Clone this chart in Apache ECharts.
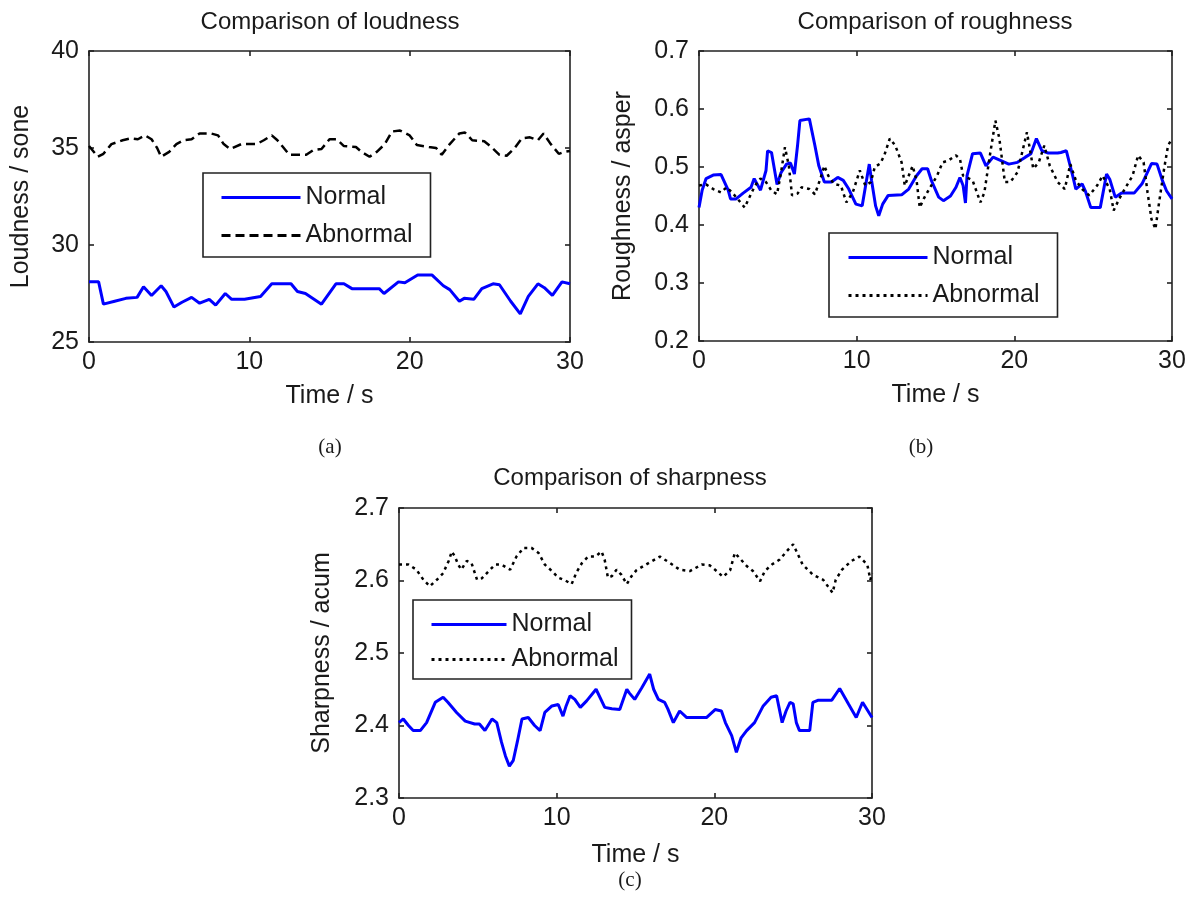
<!DOCTYPE html>
<html>
<head>
<meta charset="utf-8">
<title>Comparison of loudness, roughness and sharpness</title>
<script src="https://cdn.jsdelivr.net/npm/echarts@6/dist/echarts.min.js"></script>
<style>
  html, body { margin: 0; padding: 0; background: #fff; }
  #page { position: relative; width: 1191px; height: 899px; overflow: hidden; }
  .chart { position: absolute; }
  #chartA { left: 0; top: 0; width: 600px; height: 460px; }
  #chartB { left: 600px; top: 0; width: 591px; height: 460px; }
  #chartC { left: 300px; top: 460px; width: 600px; height: 439px; }
</style>
</head>
<body>
<div id="page">
  <div id="chartA" class="chart"></div>
  <div id="chartB" class="chart"></div>
  <div id="chartC" class="chart"></div>
</div>
<script>
// (a) loudness, sone
const loudNormalTime = [0, 0.6, 0.9, 1.6, 2.3, 3.0, 3.4, 3.9, 4.5, 4.8, 5.3, 5.8, 6.4, 6.9, 7.5, 7.9, 8.5, 8.9, 9.7, 10.7, 11.4, 12.6, 13.0, 13.5, 14.5, 15.4, 15.9, 16.4, 18.1, 18.4, 19.3, 19.7, 20.5, 21.4, 22.1, 22.5, 23.1, 23.4, 24.0, 24.5, 25.2, 25.6, 26.3, 26.9, 27.4, 28.0, 28.4, 28.9, 29.5, 30];
const loudNormal = [28.1, 28.1, 26.95, 27.1, 27.25, 27.3, 27.85, 27.4, 27.9, 27.6, 26.8, 27.05, 27.3, 27.0, 27.2, 26.9, 27.5, 27.2, 27.2, 27.35, 28.0, 28.0, 27.6, 27.5, 26.95, 28.0, 28.0, 27.75, 27.75, 27.5, 28.1, 28.05, 28.45, 28.45, 27.9, 27.7, 27.1, 27.25, 27.2, 27.75, 28.0, 27.95, 27.1, 26.45, 27.35, 28.0, 27.8, 27.4, 28.1, 28.0];
const loudAbnormalTime = [0, 0.55, 0.9, 1.4, 2.1, 2.6, 3.05, 3.5, 3.9, 4.25, 4.5, 5.0, 5.45, 5.9, 6.4, 6.9, 7.6, 8.05, 8.4, 8.8, 9.5, 10.45, 10.9, 11.4, 11.75, 12.1, 12.5, 13.55, 14.0, 14.5, 15.0, 15.45, 15.9, 16.65, 17.0, 17.5, 17.95, 18.45, 18.9, 19.4, 20.0, 20.45, 21.2, 21.65, 22.0, 22.5, 23.1, 23.45, 23.9, 24.65, 25.1, 25.6, 26.05, 26.55, 27.0, 27.5, 28.0, 28.35, 28.8, 29.3, 29.65, 30];
const loudAbnormal = [35.1, 34.55, 34.7, 35.2, 35.4, 35.5, 35.45, 35.65, 35.45, 35.0, 34.55, 34.8, 35.2, 35.4, 35.45, 35.75, 35.75, 35.65, 35.2, 34.95, 35.2, 35.2, 35.4, 35.65, 35.4, 35.05, 34.65, 34.65, 34.9, 34.95, 35.45, 35.45, 35.1, 35.05, 34.8, 34.55, 34.8, 35.2, 35.85, 35.9, 35.65, 35.15, 35.05, 35.0, 34.65, 35.2, 35.75, 35.8, 35.4, 35.35, 35.05, 34.65, 34.6, 35.0, 35.5, 35.55, 35.4, 35.75, 35.2, 34.7, 34.8, 34.85];

// (b) roughness, asper
const roughNormalTime = [0, 0.2, 0.45, 0.9, 1.4, 1.85, 2.0, 2.35, 2.8, 3.3, 3.5, 3.7, 3.9, 4.25, 4.35, 4.6, 4.95, 5.2, 5.55, 5.8, 6.05, 6.25, 6.4, 7.0, 7.35, 7.6, 7.95, 8.4, 8.8, 9.15, 9.5, 9.95, 10.35, 10.55, 10.8, 10.95, 11.2, 11.4, 11.65, 12.0, 12.85, 13.3, 13.8, 14.15, 14.5, 14.75, 15.2, 15.5, 15.95, 16.3, 16.55, 16.75, 16.9, 17.0, 17.35, 17.85, 18.2, 18.65, 19.15, 19.65, 20.2, 20.7, 21.05, 21.4, 21.75, 22.15, 22.75, 22.95, 23.3, 23.7, 23.9, 24.3, 24.5, 24.85, 25.45, 25.85, 26.05, 26.4, 26.8, 27.6, 28.1, 28.7, 29.05, 29.4, 29.65, 30];
const roughNormal = [0.43, 0.46, 0.48, 0.486, 0.487, 0.46, 0.445, 0.445, 0.455, 0.465, 0.48, 0.47, 0.46, 0.494, 0.528, 0.525, 0.47, 0.49, 0.505, 0.507, 0.488, 0.537, 0.58, 0.583, 0.537, 0.502, 0.474, 0.474, 0.482, 0.477, 0.462, 0.436, 0.433, 0.465, 0.505, 0.476, 0.433, 0.416, 0.436, 0.451, 0.452, 0.462, 0.485, 0.497, 0.497, 0.476, 0.448, 0.442, 0.45, 0.465, 0.482, 0.468, 0.438, 0.485, 0.523, 0.524, 0.502, 0.517, 0.511, 0.505, 0.508, 0.517, 0.523, 0.549, 0.528, 0.524, 0.524, 0.525, 0.528, 0.485, 0.462, 0.471, 0.459, 0.43, 0.43, 0.488, 0.479, 0.448, 0.455, 0.455, 0.471, 0.506, 0.505, 0.476, 0.459, 0.445];
const roughAbnormalTime = [0, 0.45, 0.9, 1.4, 1.75, 2.1, 2.45, 2.9, 3.15, 3.55, 3.9, 4.25, 4.6, 4.95, 5.2, 5.45, 5.7, 5.9, 6.25, 6.5, 7.0, 7.35, 7.7, 7.95, 8.2, 8.55, 9.0, 9.35, 9.75, 10.2, 10.55, 10.9, 11.15, 11.5, 11.75, 12.1, 12.45, 12.85, 13.05, 13.55, 13.8, 14.0, 14.25, 14.6, 15.1, 15.45, 15.8, 16.3, 16.55, 16.75, 17.35, 17.85, 18.1, 18.45, 18.8, 19.05, 19.4, 19.75, 20.2, 20.8, 21.2, 21.55, 21.9, 22.25, 22.75, 23.2, 23.55, 23.9, 24.3, 24.75, 25.25, 25.6, 26.05, 26.3, 26.65, 27.0, 27.5, 27.85, 28.2, 28.45, 28.7, 28.95, 29.15, 29.5, 29.75, 30];
const roughAbnormal = [0.468, 0.47, 0.462, 0.456, 0.465, 0.456, 0.445, 0.43, 0.445, 0.468, 0.48, 0.474, 0.459, 0.453, 0.49, 0.534, 0.502, 0.451, 0.454, 0.465, 0.462, 0.453, 0.48, 0.502, 0.485, 0.471, 0.468, 0.439, 0.456, 0.494, 0.468, 0.474, 0.5, 0.506, 0.52, 0.549, 0.537, 0.508, 0.468, 0.502, 0.477, 0.43, 0.445, 0.462, 0.485, 0.508, 0.511, 0.52, 0.514, 0.485, 0.477, 0.439, 0.456, 0.52, 0.58, 0.549, 0.474, 0.474, 0.491, 0.56, 0.497, 0.508, 0.537, 0.502, 0.474, 0.462, 0.505, 0.477, 0.462, 0.451, 0.468, 0.485, 0.462, 0.425, 0.445, 0.462, 0.485, 0.52, 0.508, 0.456, 0.41, 0.393, 0.433, 0.497, 0.537, 0.549];

// (c) sharpness, acum
const sharpNormalTime = [0, 0.27, 0.6, 0.9, 1.35, 1.75, 2.3, 2.8, 3.1, 3.65, 4.2, 4.8, 5.1, 5.45, 5.9, 6.2, 6.5, 6.75, 7.0, 7.25, 7.5, 7.8, 8.2, 8.6, 8.95, 9.25, 9.7, 10.1, 10.4, 10.6, 10.85, 11.15, 11.5, 11.9, 12.5, 13.05, 13.5, 14.0, 14.45, 14.6, 14.95, 15.4, 15.9, 16.15, 16.45, 16.85, 17.05, 17.4, 17.8, 18.25, 19.5, 20.05, 20.45, 20.7, 21.1, 21.4, 21.7, 22.05, 22.55, 23.1, 23.6, 23.95, 24.3, 24.55, 24.8, 25.0, 25.2, 25.4, 26.05, 26.25, 26.6, 27.45, 27.95, 28.5, 29.0, 29.4, 30];
const sharpNormal = [2.404, 2.409, 2.4, 2.393, 2.393, 2.404, 2.432, 2.439, 2.432, 2.418, 2.406, 2.402, 2.402, 2.393, 2.409, 2.404, 2.377, 2.358, 2.344, 2.352, 2.377, 2.409, 2.411, 2.4, 2.393, 2.418, 2.427, 2.429, 2.413, 2.427, 2.441, 2.436, 2.425, 2.434, 2.45, 2.425, 2.423, 2.422, 2.45, 2.445, 2.436, 2.452, 2.471, 2.45, 2.436, 2.432, 2.423, 2.404, 2.42, 2.411, 2.411, 2.422, 2.42, 2.404, 2.386, 2.363, 2.383, 2.393, 2.404, 2.427, 2.439, 2.441, 2.404, 2.42, 2.432, 2.43, 2.404, 2.393, 2.393, 2.432, 2.435, 2.435, 2.451, 2.43, 2.411, 2.432, 2.411];
const sharpAbnormalTime = [0, 0.6, 1.1, 1.55, 1.95, 2.4, 2.8, 3.15, 3.35, 3.55, 3.75, 3.95, 4.3, 4.6, 4.95, 5.25, 5.65, 6.1, 6.5, 7.05, 7.45, 7.9, 8.4, 8.85, 9.25, 9.7, 10.1, 10.55, 10.95, 11.25, 11.6, 12.0, 12.45, 12.85, 13.05, 13.25, 13.5, 13.8, 14.1, 14.45, 14.75, 15.05, 15.9, 16.55, 17.2, 17.8, 18.45, 19.2, 19.7, 20.15, 20.55, 21.0, 21.3, 21.6, 22.05, 22.45, 22.9, 23.2, 23.65, 24.15, 24.7, 25.0, 25.6, 26.25, 26.9, 27.5, 27.7, 28.1, 28.7, 29.2, 29.7, 29.9, 30];
const sharpAbnormal = [2.622, 2.622, 2.615, 2.601, 2.592, 2.601, 2.61, 2.627, 2.64, 2.633, 2.622, 2.615, 2.627, 2.624, 2.601, 2.603, 2.612, 2.622, 2.622, 2.615, 2.633, 2.645, 2.645, 2.638, 2.622, 2.613, 2.604, 2.6, 2.595, 2.611, 2.624, 2.633, 2.633, 2.64, 2.628, 2.604, 2.606, 2.615, 2.608, 2.595, 2.606, 2.614, 2.625, 2.633, 2.624, 2.615, 2.613, 2.622, 2.621, 2.613, 2.605, 2.614, 2.638, 2.631, 2.62, 2.613, 2.599, 2.613, 2.622, 2.629, 2.643, 2.65, 2.622, 2.608, 2.601, 2.583, 2.601, 2.615, 2.627, 2.633, 2.622, 2.601, 2.61];

const timeTicks = [0, 30, 10];   // min, max, step

const FONT = '"Liberation Sans", Arial, sans-serif';
const INK = '#1a1a1a';
const FS = 25;

const toPairs = (t, v) => t.map((x, i) => [x, v[i]]);

// axis drawn as a box edge with inward ticks (matlab look)
function frameAxis(extra) {
  return Object.assign({
    type: 'value',
    axisLine: { show: true, onZero: false, lineStyle: { color: '#222', width: 1.6 } },
    axisTick: { show: true, inside: true, length: 5, lineStyle: { color: '#222', width: 1.6 } },
    splitLine: { show: false },
    axisLabel: { show: false }
  }, extra);
}

function textEl(x, y, text, font) {
  return {
    type: 'text', x, y,
    style: {
      text, font, fill: INK,
      textAlign: 'center', textVerticalAlign: 'middle',
      align: 'center', verticalAlign: 'middle'
    }
  };
}

function makeChart(id, cfg) {
  const chart = echarts.init(document.getElementById(id));
  const labelStyle = { show: true, fontSize: FS, color: INK, fontFamily: FONT };
  const nameStyle = { fontSize: FS, color: INK, fontFamily: FONT };
  const [tMin, tMax, tStep] = timeTicks;

  chart.setOption({
    animation: false,
    backgroundColor: '#fff',
    grid: cfg.grid,
    xAxis: [
      frameAxis({
        position: 'bottom', min: tMin, max: tMax, interval: tStep,
        name: 'Time / s', nameLocation: 'middle', nameGap: cfg.xNameGap, nameTextStyle: nameStyle,
        axisLabel: Object.assign({ margin: 8 }, labelStyle)
      }),
      frameAxis({ position: 'top', min: tMin, max: tMax, interval: tStep })
    ],
    yAxis: [
      frameAxis({
        position: 'left', min: cfg.yTicks[0], max: cfg.yTicks[1], interval: cfg.yTicks[2],
        name: cfg.yName, nameLocation: 'middle', nameGap: cfg.yNameGap, nameTextStyle: nameStyle,
        axisLabel: Object.assign({ margin: 10, formatter: cfg.yFmt }, labelStyle)
      }),
      frameAxis({ position: 'right', min: cfg.yTicks[0], max: cfg.yTicks[1], interval: cfg.yTicks[2] })
    ],
    legend: {
      orient: 'vertical',
      left: cfg.legendPos[0], top: cfg.legendPos[1],
      padding: cfg.legendPad,
      itemWidth: cfg.legendLine, itemHeight: 25, itemGap: cfg.legendGap,
      borderColor: '#222', borderWidth: 1.6, backgroundColor: '#fff',
      // hide the marker dot that line series put in their legend icon
      itemStyle: { color: 'rgba(0,0,0,0)', borderColor: 'rgba(0,0,0,0)', borderWidth: 0 },
      lineStyle: { width: 3 },
      textStyle: { fontSize: FS, color: INK, fontFamily: FONT },
      data: ['Normal', 'Abnormal']
    },
    graphic: [
      textEl(cfg.titleAt[0], cfg.titleAt[1], cfg.title, '24px "Liberation Sans"'),
      textEl(cfg.captionAt[0], cfg.captionAt[1], cfg.caption, '21px "Liberation Serif"')
    ],
    series: [
      {
        name: 'Normal', type: 'line', symbol: 'none',
        data: cfg.normal,
        lineStyle: { color: '#0000ff', width: 3 },
        itemStyle: { color: '#0000ff' }
      },
      {
        name: 'Abnormal', type: 'line', symbol: 'none',
        data: cfg.abnormal,
        lineStyle: { color: '#000', width: 2.5, type: cfg.dash },
        itemStyle: { color: '#000' }
      }
    ]
  });
  window.addEventListener('resize', () => chart.resize());
  return chart;
}

makeChart('chartA', {
  grid: { left: 89, top: 51, width: 481, height: 291 },
  yTicks: [25, 40, 5],
  yName: 'Loudness / sone', yNameGap: 55, xNameGap: 42,
  title: 'Comparison of loudness', titleAt: [330, 22],
  caption: '(a)', captionAt: [330, 447],
  legendPos: [203, 173], legendPad: [12, 18, 9, 17], legendLine: 79, legendGap: 13,
  normal: toPairs(loudNormalTime, loudNormal),
  abnormal: toPairs(loudAbnormalTime, loudAbnormal),
  dash: [9, 5]
});

makeChart('chartB', {
  grid: { left: 99, top: 51, width: 473, height: 290 },
  yTicks: [0.2, 0.7, 0.1],
  yFmt: v => v.toFixed(1),
  yName: 'Roughness / asper', yNameGap: 63, xNameGap: 42,
  title: 'Comparison of roughness', titleAt: [335, 22],
  caption: '(b)', captionAt: [321, 447],
  legendPos: [229, 233], legendPad: [12, 18, 9, 18], legendLine: 79, legendGap: 13,
  normal: toPairs(roughNormalTime, roughNormal),
  abnormal: toPairs(roughAbnormalTime, roughAbnormal),
  dash: [3, 4]
});

makeChart('chartC', {
  grid: { left: 99, top: 48, width: 473, height: 290 },
  yTicks: [2.3, 2.7, 0.1],
  yFmt: v => v.toFixed(1),
  yName: 'Sharpness / acum', yNameGap: 64, xNameGap: 45,
  title: 'Comparison of sharpness', titleAt: [330, 18],
  caption: '(c)', captionAt: [330, 420],
  legendPos: [113, 140], legendPad: [12, 13, 7, 17], legendLine: 75, legendGap: 10,
  normal: toPairs(sharpNormalTime, sharpNormal),
  abnormal: toPairs(sharpAbnormalTime, sharpAbnormal),
  dash: [3, 4]
});
</script>
</body>
</html>
